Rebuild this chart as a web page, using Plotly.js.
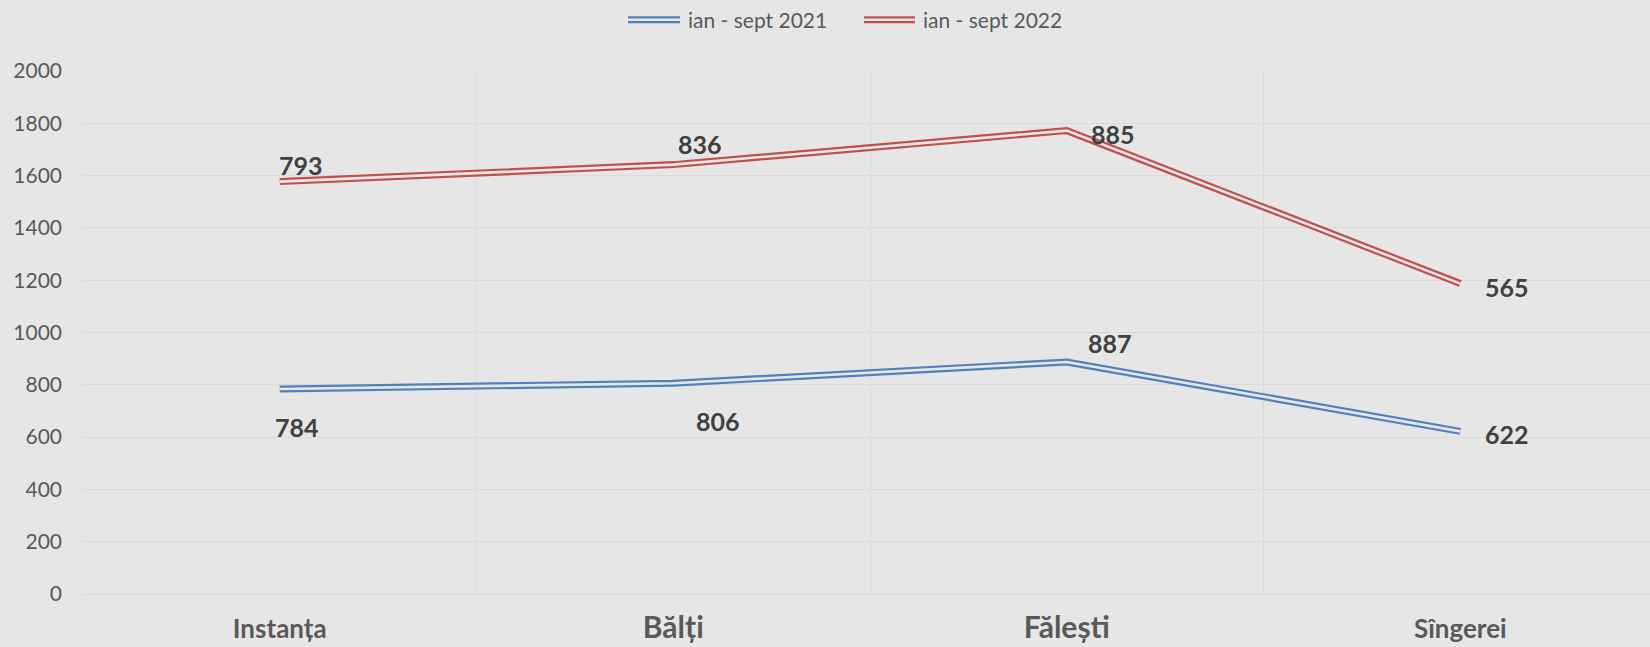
<!DOCTYPE html>
<html><head><meta charset="utf-8">
<script src="https://cdn.plot.ly/plotly-3.0.1.min.js"></script>
<style>html,body{margin:0;padding:0;background:#e7e6e6;overflow:hidden}</style>
</head><body><div id="chart" style="width:1650px;height:647px"></div>
<script>
// ---- data ----
const categories = ['Instanța', 'Bălți', 'Fălești', 'Sîngerei'];
const seriesNames = ['ian - sept 2021', 'ian - sept 2022'];
const values2021 = [784, 806, 887, 622];
const values2022 = [793, 836, 885, 565];
const yTicks = [0, 200, 400, 600, 800, 1000, 1200, 1400, 1600, 1800, 2000];

// ---- style config ----
const W = 1650, H = 647, L = 83, R = 0, T = 71, B = 53;
const BG = '#e7e6e6', GRID = '#dbdada', TXT = '#595959', LBL = '#404040';
const BLUE = '#4f81bd', RED = '#c0504d';
const FONT = 'Lato, "Open Sans", sans-serif';
const catLabelSizes = [26, 30, 30, 26];
const blueLabelShift = [[17, -38], [45, -38], [43, 19], [47, -3]];
const redLabelShift = [[21, 17], [27, 21], [46, -3], [47, -3]];

const plotW = W - L - R, plotH = H - T - B;
const xp = px => (px - L) / plotW;
const yp = py => (H - B - py) / plotH;

function lineTrace(vals, color, width, group, name) {
  return {
    type: 'scatter', mode: 'lines', x: categories, y: vals, name: name,
    stackgroup: group, fill: 'none', showlegend: false, hoverinfo: 'skip',
    line: {color: color, width: width, shape: 'linear'}
  };
}
const data = [
  lineTrace(values2021, BLUE, 7, 'outer', seriesNames[0]),
  lineTrace(values2022, RED, 7, 'outer', seriesNames[1]),
  lineTrace(values2021, BG, 2.6, 'inner', seriesNames[0]),
  lineTrace(values2022, BG, 2.6, 'inner', seriesNames[1])
];

const stacked = values2021.map((v, i) => v + values2022[i]);
const annotations = [];
categories.forEach((c, i) => {
  annotations.push({x: c, y: values2021[i], xref: 'x', yref: 'y', text: String(values2021[i]),
    showarrow: false, xanchor: 'center', yanchor: 'middle',
    xshift: blueLabelShift[i][0], yshift: blueLabelShift[i][1],
    font: {family: FONT, size: 25, color: LBL, weight: 'bold'}});
  annotations.push({x: c, y: stacked[i], xref: 'x', yref: 'y', text: String(values2022[i]),
    showarrow: false, xanchor: 'center', yanchor: 'middle',
    xshift: redLabelShift[i][0], yshift: redLabelShift[i][1],
    font: {family: FONT, size: 25, color: LBL, weight: 'bold'}});
});

// manual legend (double-line symbols)
const legendItems = [
  {x0: 628, x1: 680, tx: 686, color: BLUE, name: seriesNames[0]},
  {x0: 864, x1: 915, tx: 921, color: RED, name: seriesNames[1]}
];
const legY = 19.7;
const shapes = [];
legendItems.forEach(it => {
  shapes.push({type: 'line', xref: 'paper', yref: 'paper', x0: xp(it.x0), x1: xp(it.x1), y0: yp(legY), y1: yp(legY),
    line: {color: it.color, width: 7}});
  shapes.push({type: 'line', xref: 'paper', yref: 'paper', x0: xp(it.x0 - 1), x1: xp(it.x1 + 1), y0: yp(legY), y1: yp(legY),
    line: {color: BG, width: 2.6}});
  annotations.push({xref: 'paper', yref: 'paper', x: xp(it.tx), y: yp(legY), text: it.name,
    showarrow: false, xanchor: 'left', yanchor: 'middle',
    font: {family: FONT, size: 21, color: TXT}});
});

const tickText = categories.map((c, i) => '<span style="font-size:' + catLabelSizes[i] + 'px">' + c + '</span>');

const layout = {
  width: W, height: H, autosize: false,
  margin: {l: L, r: R, t: T, b: B, pad: 0},
  paper_bgcolor: BG, plot_bgcolor: BG,
  showlegend: false,
  xaxis: {
    type: 'category', range: [-0.5, 3.482],
    tickmode: 'array', tickvals: categories, ticktext: tickText,
    tickson: 'boundaries', ticks: '', showgrid: true, gridcolor: GRID, gridwidth: 1,
    showline: false, zeroline: false, fixedrange: true,
    tickfont: {family: FONT, size: 26, color: TXT, weight: 'bold'},
    ticklabelstandoff: 17
  },
  yaxis: {
    range: [0, 2000], tickmode: 'array', tickvals: yTicks, ticktext: yTicks.map(String),
    showgrid: true, gridcolor: GRID, gridwidth: 1, zeroline: true, zerolinecolor: GRID, zerolinewidth: 1,
    showline: false, ticks: '', fixedrange: true,
    tickfont: {family: FONT, size: 21, color: TXT},
    ticklabelstandoff: 20
  },
  shapes: shapes,
  annotations: annotations
};

Plotly.newPlot('chart', data, layout, {staticPlot: true, displayModeBar: false});
</script></body></html>
